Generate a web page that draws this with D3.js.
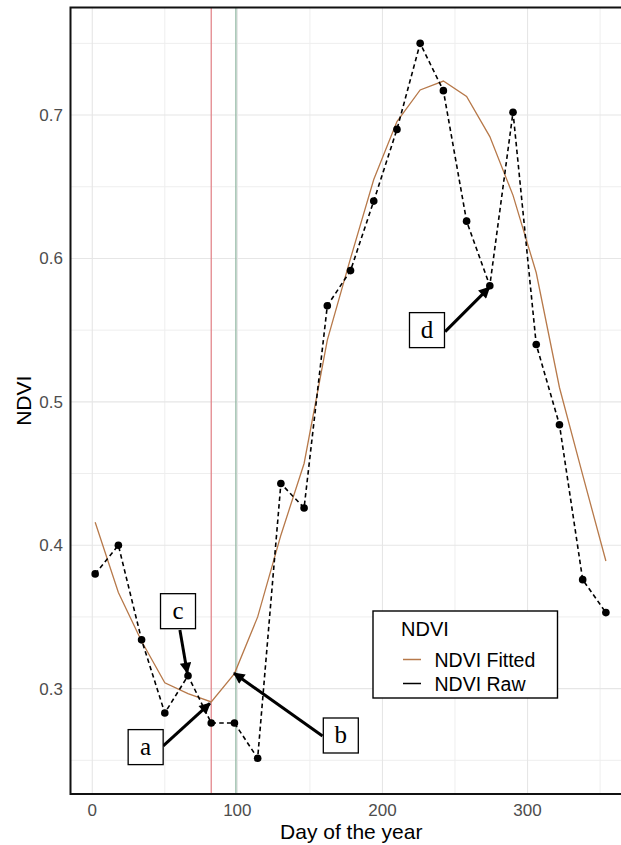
<!DOCTYPE html>
<html>
<head>
<meta charset="utf-8">
<script src="https://cdn.jsdelivr.net/npm/d3@7"></script>
<style>
  html, body { margin: 0; padding: 0; background: #fff; }
  svg { display: block; }
</style>
</head>
<body>
<svg id="chart" width="621" height="845"></svg>
<script>
// ---- data ----
const days = [2, 18, 34, 50, 66, 82, 98, 114, 130, 146, 162, 178, 194, 210, 226, 242, 258, 274, 290, 306, 322, 338, 354];
const ndviRaw = [0.380, 0.400, 0.334, 0.283, 0.309, 0.276, 0.276, 0.2514, 0.443, 0.426, 0.567, 0.5915, 0.640, 0.690, 0.750, 0.717, 0.626, 0.581, 0.702, 0.540, 0.484, 0.376, 0.353];
const ndviFitted = [0.416, 0.367, 0.333, 0.304, 0.2965, 0.2907, 0.3105, 0.350, 0.407, 0.457, 0.543, 0.600, 0.655, 0.6955, 0.7175, 0.7237, 0.713, 0.685, 0.644, 0.590, 0.510, 0.449, 0.389];
const xTicks = [0, 100, 200, 300];
const xMinor = [50, 150, 250, 350];
const yTicks = [0.3, 0.4, 0.5, 0.6, 0.7];
const yMinor = [0.25, 0.35, 0.45, 0.55, 0.65, 0.75];
const vLines = [{day: 82, color: "#e3878c"}, {day: 99, color: "#92b7a3"}];
const legendItems = [{label: "NDVI Fitted", color: "#b7794a"}, {label: "NDVI Raw", color: "#000"}];
// annotations: label box centre and arrow in data coordinates
const labels = [
  {text: "a", day: 36.8, v: 0.2592, from: [48.9, 0.260], to: [81.1, 0.2897]},
  {text: "b", day: 171.3, v: 0.2673, from: [158.7, 0.267], to: [97.7, 0.3107]},
  {text: "c", day: 59.1, v: 0.354, from: [60.4, 0.3409], to: [65.5, 0.3109]},
  {text: "d", day: 230.7, v: 0.550, from: [243.2, 0.549], to: [273.7, 0.5798]}
];

// ---- layout ----
const svg = d3.select("#chart");
const pLeft = 70.5, pTop = 7.5, pBottom = 794, pRight = 632;
const x = d3.scaleLinear().domain([-15, 372]).range([pLeft, pRight]);
const y = d3.scaleLinear().domain([0.2265, 0.775]).range([pBottom, pTop]);

const defs = svg.append("defs");
defs.append("clipPath").attr("id", "clip").append("rect")
  .attr("x", pLeft).attr("y", pTop).attr("width", pRight - pLeft).attr("height", pBottom - pTop);
defs.append("marker").attr("id", "arrow").attr("viewBox", "0 0 10 10")
  .attr("refX", 9).attr("refY", 5).attr("markerWidth", 4.4).attr("markerHeight", 3.8)
  .attr("markerUnits", "strokeWidth").attr("orient", "auto")
  .append("path").attr("d", "M0,0 L10,5 L0,10 Z").attr("fill", "#000");

const g = svg.append("g").attr("clip-path", "url(#clip)");

// grid
g.selectAll(".gxm").data(xMinor).join("line")
  .attr("x1", d => x(d)).attr("x2", d => x(d)).attr("y1", pTop).attr("y2", pBottom)
  .attr("stroke", "#eeeeee").attr("stroke-width", 1);
g.selectAll(".gym").data(yMinor).join("line")
  .attr("y1", d => y(d)).attr("y2", d => y(d)).attr("x1", pLeft).attr("x2", pRight)
  .attr("stroke", "#eeeeee").attr("stroke-width", 1);
g.selectAll(".gx").data(xTicks).join("line")
  .attr("x1", d => x(d)).attr("x2", d => x(d)).attr("y1", pTop).attr("y2", pBottom)
  .attr("stroke", "#e6e6e6").attr("stroke-width", 1.1);
g.selectAll(".gy").data(yTicks).join("line")
  .attr("y1", d => y(d)).attr("y2", d => y(d)).attr("x1", pLeft).attr("x2", pRight)
  .attr("stroke", "#e6e6e6").attr("stroke-width", 1.1);

// vertical reference lines
g.selectAll(".vl").data(vLines).join("line")
  .attr("x1", d => x(d.day)).attr("x2", d => x(d.day)).attr("y1", pTop).attr("y2", pBottom)
  .attr("stroke", d => d.color).attr("stroke-width", 1.3);

const line = d3.line().x(d => x(d[0])).y(d => y(d[1]));
// fitted
g.append("path").datum(days.map((d, i) => [d, ndviFitted[i]]))
  .attr("d", line).attr("fill", "none").attr("stroke", legendItems[0].color).attr("stroke-width", 1.3);
// raw
g.append("path").datum(days.map((d, i) => [d, ndviRaw[i]]))
  .attr("d", line).attr("fill", "none").attr("stroke", "#000").attr("stroke-width", 1.6)
  .attr("stroke-dasharray", "4.5,3.2");
g.selectAll(".pt").data(days).join("circle")
  .attr("cx", d => x(d)).attr("cy", (d, i) => y(ndviRaw[i])).attr("r", 3.8).attr("fill", "#000");

// annotations
labels.forEach(l => {
  svg.append("line")
    .attr("x1", x(l.from[0])).attr("y1", y(l.from[1]))
    .attr("x2", x(l.to[0])).attr("y2", y(l.to[1]))
    .attr("stroke", "#000").attr("stroke-width", 3).attr("marker-end", "url(#arrow)");
});
labels.forEach(l => {
  const cx = x(l.day), cy = y(l.v);
  svg.append("rect").attr("x", cx - 17.5).attr("y", cy - 17.5).attr("width", 35).attr("height", 35)
    .attr("fill", "#fff").attr("stroke", "#000").attr("stroke-width", 1.3);
  svg.append("text").attr("x", cx).attr("y", cy + 8).attr("text-anchor", "middle")
    .attr("font-family", "Liberation Serif, Times New Roman, serif").attr("font-size", 25)
    .attr("fill", "#000").text(l.text);
});

// panel border
svg.append("rect").attr("x", pLeft).attr("y", pTop).attr("width", pRight - pLeft + 5).attr("height", pBottom - pTop)
  .attr("fill", "none").attr("stroke", "#111").attr("stroke-width", 2);

// axes tick labels
const font = "Liberation Sans, Arial, sans-serif";
svg.selectAll(".xt").data(xTicks).join("text")
  .attr("x", d => x(d)).attr("y", 815.5).attr("text-anchor", "middle")
  .attr("font-family", font).attr("font-size", 17).attr("fill", "#4d4d4d").text(d => d);
svg.selectAll(".yt").data(yTicks).join("text")
  .attr("x", 63).attr("y", d => y(d) + 6).attr("text-anchor", "end")
  .attr("font-family", font).attr("font-size", 17).attr("fill", "#4d4d4d").text(d => d3.format(".1f")(d));

// axis titles
svg.append("text").attr("x", (pLeft + pRight) / 2).attr("y", 838.5).attr("text-anchor", "middle")
  .attr("font-family", font).attr("font-size", 21).attr("fill", "#000").text("Day of the year");
svg.append("text").attr("transform", `translate(30.5,${(pTop + pBottom) / 2}) rotate(-90)`)
  .attr("text-anchor", "middle").attr("font-family", font).attr("font-size", 21).attr("fill", "#000").text("NDVI");

// legend
const lg = svg.append("g").attr("transform", "translate(373,611)");
lg.append("rect").attr("width", 184.5).attr("height", 87).attr("fill", "#fff")
  .attr("stroke", "#000").attr("stroke-width", 1.4);
lg.append("text").attr("x", 28).attr("y", 25).attr("font-family", font).attr("font-size", 20)
  .attr("fill", "#000").text("NDVI");
legendItems.forEach((it, i) => {
  const yy = 48.5 + i * 24;
  lg.append("line").attr("x1", 30).attr("x2", 48).attr("y1", yy).attr("y2", yy)
    .attr("stroke", it.color).attr("stroke-width", 1.5);
  lg.append("text").attr("x", 61.5).attr("y", yy + 7).attr("font-family", font).attr("font-size", 19.5)
    .attr("fill", "#000").text(it.label);
});
</script>
</body>
</html>
